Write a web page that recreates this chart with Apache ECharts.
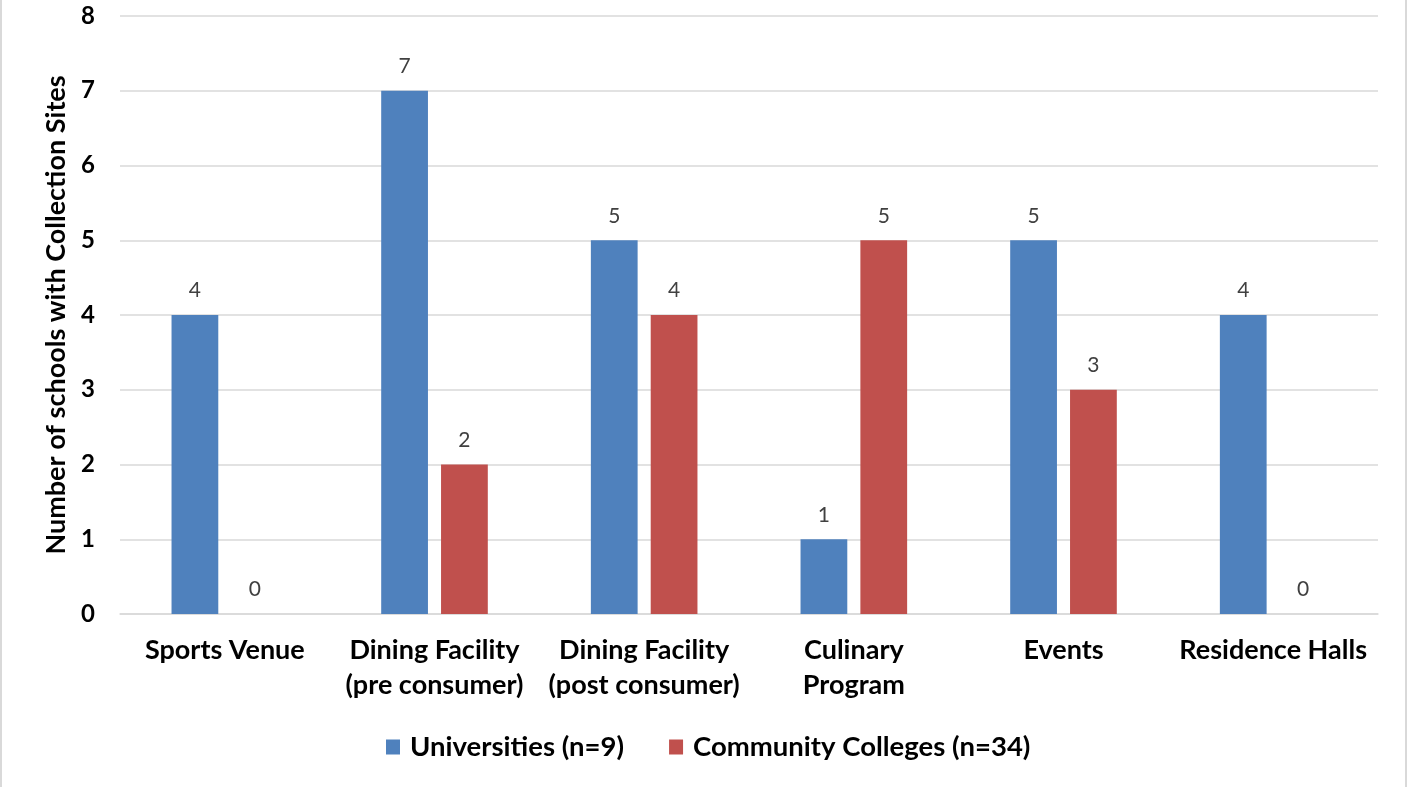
<!DOCTYPE html>
<html><head><meta charset="utf-8">
<script src="https://cdn.jsdelivr.net/npm/echarts@6/dist/echarts.min.js"></script>
<style>html,body{margin:0;padding:0;background:#fff}#c{width:1407px;height:787px;box-sizing:border-box;border-left:2px solid #d9d9d9;border-right:2px solid #d9d9d9}</style>
</head><body><div id="c"></div>
<script>
const categories = ['Sports Venue', 'Dining Facility\n(pre consumer)', 'Dining Facility\n(post consumer)', 'Culinary\nProgram', 'Events', 'Residence Halls'];
const universities = [4, 7, 5, 1, 5, 4];
const communityColleges = [0, 2, 4, 5, 3, 0];
const seriesNames = ['Universities (n=9)', 'Community Colleges (n=34)'];
const yAxisTitle = 'Number of schools with Collection Sites';

const chart = echarts.init(document.getElementById('c'), null, {renderer: 'canvas'});
const FONT = 'Lato, "Open Sans", sans-serif';
const labelStyle = {show: true, position: 'top', distance: 14, color: '#404040', fontSize: 21, fontFamily: FONT};
chart.setOption({
  animation: false,
  grid: {left: 118, right: 27, top: 16, bottom: 173},
  legend: {
    bottom: 21, left: 379, itemWidth: 14, itemHeight: 15, itemGap: 45,
    icon: 'rect',
    textStyle: {fontSize: 27.5, fontWeight: 'bold', color: '#000', fontFamily: FONT, padding: [0, 0, 0, 5]}
  },
  xAxis: {
    type: 'category', data: categories,
    axisTick: {show: false},
    axisLine: {lineStyle: {color: '#d9d9d9', width: 1.5}},
    axisLabel: {fontSize: 27, fontWeight: 'bold', color: '#000', fontFamily: FONT, margin: 19, lineHeight: 35, interval: 0}
  },
  yAxis: {
    type: 'value', min: 0, max: 8, interval: 1,
    name: yAxisTitle, nameLocation: 'middle', nameGap: 50,
    nameTextStyle: {fontSize: 27, fontWeight: 'bold', color: '#000', fontFamily: FONT},
    axisLine: {show: false}, axisTick: {show: false},
    axisLabel: {fontSize: 24, fontWeight: 'bold', color: '#000', fontFamily: FONT, margin: 25},
    splitLine: {lineStyle: {color: '#d9d9d9', width: 1.5}}
  },
  series: [
    {name: seriesNames[0], type: 'bar', data: universities, barWidth: '22.3%', barGap: '28%',
     itemStyle: {color: '#4f81bd'}, label: labelStyle},
    {name: seriesNames[1], type: 'bar', data: communityColleges, barWidth: '22.3%',
     itemStyle: {color: '#c0504d'}, label: labelStyle}
  ]
});
</script></body></html>
